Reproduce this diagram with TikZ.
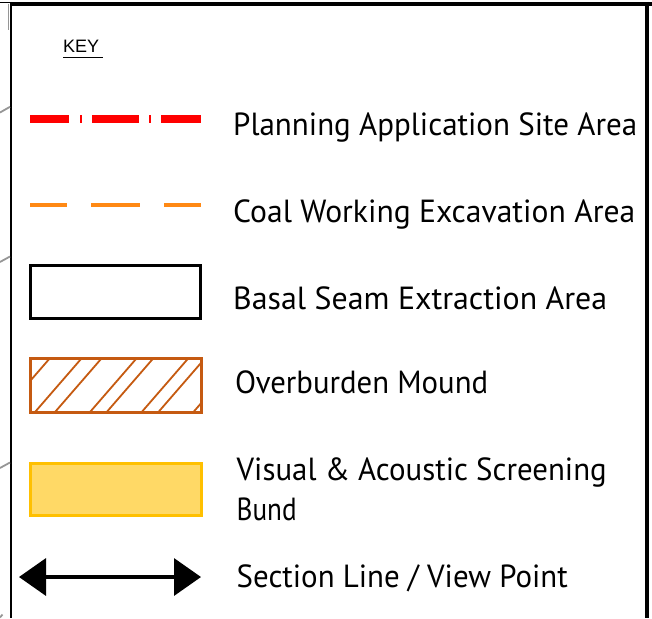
\documentclass[tikz,border=0pt]{standalone}
\usepackage{fontspec}
\usepackage{graphicx}
\setmainfont{PT Sans}
\newfontfamily\keyfont{Liberation Sans}
\usetikzlibrary{arrows.meta}
\definecolor{planred}{RGB}{255,0,0}
\definecolor{coalorange}{RGB}{255,137,20}
\definecolor{moundbrown}{RGB}{197,90,17}
\definecolor{bundfill}{RGB}{255,217,102}
\definecolor{bundline}{RGB}{255,192,0}
\definecolor{mapgray}{RGB}{150,150,150}
\newcommand{\fitw}[2]{\resizebox{#1}{\height}{#2}}
\begin{document}
\begin{tikzpicture}[x=1pt,y=-1pt,
  keytext/.style={anchor=base west, inner sep=0pt, font=\fontsize{32}{40}\selectfont},
  framethick/.style={line width=4.4pt, black},
  framethin/.style={line width=2.2pt, black},
  mapline/.style={line width=1.8pt, mapgray},
  redline/.style={line width=8pt, planred},
  orangeline/.style={line width=4pt, coalorange},
  hatchline/.style={line width=1.8pt, moundbrown}]
\useasboundingbox (0,0) rectangle (652,618);
% frame
\draw[mapgray, line width=0.8pt] (8.5,4) -- (8.5,30);
\draw[black, line width=1.2pt] (0,2.6) -- (11,2.6);
\draw[framethick] (10,4) -- (652,4);
\draw[framethin] (11,2) -- (11,618);
\draw[framethick] (647,2) -- (647,618);
% map lines outside frame
\draw[mapline] (0,112.5) -- (10,106.8);
\draw[mapline] (0,262) -- (10,256.5);
\draw[mapline] (0,468) -- (10,462.5);
\draw[mapline] (0,617.5) -- (2.5,614.5);
% KEY
\node[anchor=base west, inner sep=0pt, font=\keyfont\fontsize{18}{22}\selectfont] (key) at (63,52.7) {KEY};
\draw[black, line width=1.3pt] (63,57.2) -- (102.5,57.2);
% red dash-dot
\draw[redline] (30,119) -- (69,119);
\draw[redline] (80,119) -- (81.5,119);
\draw[redline] (92,119) -- (139,119);
\draw[redline] (149.3,119) -- (150.8,119);
\draw[redline] (161,119) -- (201,119);
% orange dashed
\draw[orangeline] (30,205) -- (67,205);
\draw[orangeline] (91,205) -- (140,205);
\draw[orangeline] (164,205) -- (201,205);
% basal rectangle
\draw[black, line width=3pt] (30,265.5) rectangle (200.5,318.5);
% overburden hatched rectangle
\begin{scope}
  \clip (30,358) rectangle (201,412);
  \foreach \b in {1.5,33.3,53.3,88.3,105,140,156.7,191.7}{
    \draw[hatchline] (\b,414) -- ({\b+50.3},356);
  }
\end{scope}
\draw[moundbrown, line width=3pt] (30,358) rectangle (201,412);
% screening bund
\draw[bundline, fill=bundfill, line width=3pt] (30,463.5) rectangle (201,515.5);
% section arrow
\coordinate (sl) at (19,577);
\coordinate (sr) at (201,577);
\draw[black, line width=3.5pt, {Triangle[length=27pt,width=37pt]}-{Triangle[length=27pt,width=37pt]}] (sl) -- (sr);
% labels
\node[keytext] (t1) at (233,135) {\fitw{404pt}{Planning Application Site Area}};
\node[keytext] (t2) at (233,222) {\fitw{402pt}{Coal Working Excavation Area}};
\node[keytext] (t3) at (233,309.3) {\fitw{374pt}{Basal Seam Extraction Area}};
\node[keytext] (t4) at (235,393.3) {\fitw{253pt}{Overburden Mound}};
\node[keytext] (t5) at (236.5,480) {\fitw{370pt}{Visual \& Acoustic Screening}};
\node[keytext] (t5b) at (236.5,520) {\fitw{60pt}{Bund}};
\node[keytext] (t6) at (236.5,587.7) {\fitw{331pt}{Section Line / View Point}};
\end{tikzpicture}
\end{document}
